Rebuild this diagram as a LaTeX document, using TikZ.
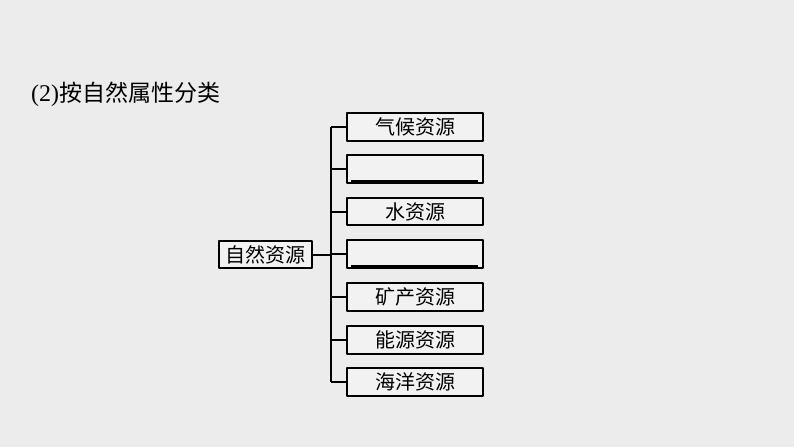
\documentclass[tikz,border=0pt]{standalone}
\usepackage{fontspec}
\setmainfont{Liberation Serif}
\newfontfamily\cjk{Noto Sans CJK SC}
\definecolor{paper}{RGB}{236,236,236}
\definecolor{boxfill}{RGB}{242,242,242}

\begin{document}
\begin{tikzpicture}[
        x = 1pt, y = -1pt,
        line join = round,
        box/.style = {draw, line width = 2pt, fill = boxfill, minimum width = 136pt,
                      minimum height = 27.5pt, inner sep = 0pt, font = \cjk\fontsize{20}{20}\selectfont},
        link/.style = {line width = 2pt}
    ]

    \fill[paper] (0, 0) rectangle (794, 447);
    \useasboundingbox (0, 0) rectangle (794, 447);

    \node[anchor = base west, inner sep = 0pt] (title) at (31, 101)
        {\fontsize{24}{24}\selectfont(2)\cjk\fontsize{23}{23}\selectfont 按自然属性分类};

    \node[box, minimum width = 93pt, minimum height = 26.5pt] (root) at (265, 254.5) {自然资源};
    \coordinate (fork) at (331, 254.5);

    \foreach \i/\y/\txt in {1/127/气候资源, 2/169/, 3/211.5/水资源, 4/254/,
                            5/297/矿产资源, 6/340/能源资源, 7/382/海洋资源} {
        \node[box] (b\i) at (415, \y) {\txt};
        \draw[link] (fork |- b\i.west) -- (b\i.west);
    }

    % blanks to fill in
    \draw[line width = 1.8pt] (b2.south west) ++ (5, -3) -- ([shift = {(-6, -3)}] b2.south east);
    \draw[line width = 1.8pt] (b4.south west) ++ (5, -3) -- ([shift = {(-6, -3)}] b4.south east);

    \draw[link] (root.east) -- (fork);
    \draw[link] (fork |- b1.west) -- (fork |- b7.west);

\end{tikzpicture}
\end{document}
